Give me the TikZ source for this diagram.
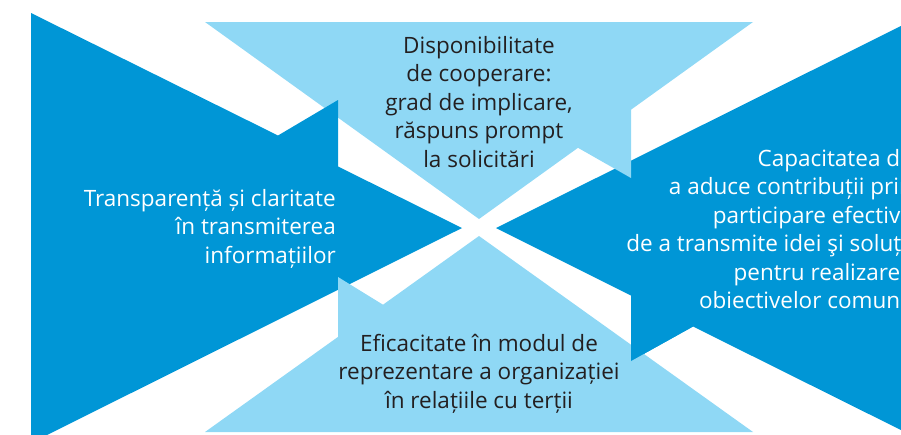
\documentclass[tikz,border=0pt]{standalone}
\usepackage{fontspec}
\setmainfont{Open Sans}
\usetikzlibrary{positioning}
\definecolor{albastru}{RGB}{0,150,214}
\definecolor{bleu}{RGB}{143,216,245}
\definecolor{gri}{RGB}{35,31,32}

\begin{document}
\begin{tikzpicture}[x=1pt,y=-1pt,
inchis/.style={fill=albastru},
deschis/.style={fill=bleu},
eticheta/.style={font=\fontsize{22.5}{28.5}\selectfont, inner sep=0pt}]

\useasboundingbox (0,0) rectangle (901,434);
\clip (0,0) rectangle (901,434);

\fill[inchis] (927,13)--(496,228)--(631,295.5)--(631,361)--(693,326.5)--(927,443)--cycle;
\fill[deschis] (205,22)--(753,22)--(631,109.7)--(631,178)--(578,147.8)--(479,219)--cycle;
\fill[inchis] (31,13)--(278,135.5)--(338,100)--(338,166.5)--(462,228)--(31,443)--cycle;
\fill[deschis] (205,432)--(338,336.9)--(338,277)--(383,304.7)--(479,236)--(753,432)--cycle;
\fill[inchis] (631,295.5)--(631,361)--(693,326.5)--cycle;

\node[eticheta, text=gri, align=center] (Disponibilitate) at (479,102) {Disponibilitate\\de cooperare:\\grad de implicare,\\răspuns prompt\\la solicitări};
\node[eticheta, white, align=right, anchor=east] (Transparenta) at (336,228.5) {Transparență și claritate\\în transmiterea\\informațiilor};
\node[eticheta, white, align=right, anchor=east] (Capacitate) at (913,229) {Capacitatea de\\a aduce contribuții prin\\participare efectivă\\de a transmite idei şi soluții\\pentru realizarea\\obiectivelor comune};
\node[eticheta, text=gri, align=center] (Eficacitate) at (479,373.5) {Eficacitate în modul de\\reprezentare a organizației\\în relațiile cu terții};

\end{tikzpicture}
\end{document}
